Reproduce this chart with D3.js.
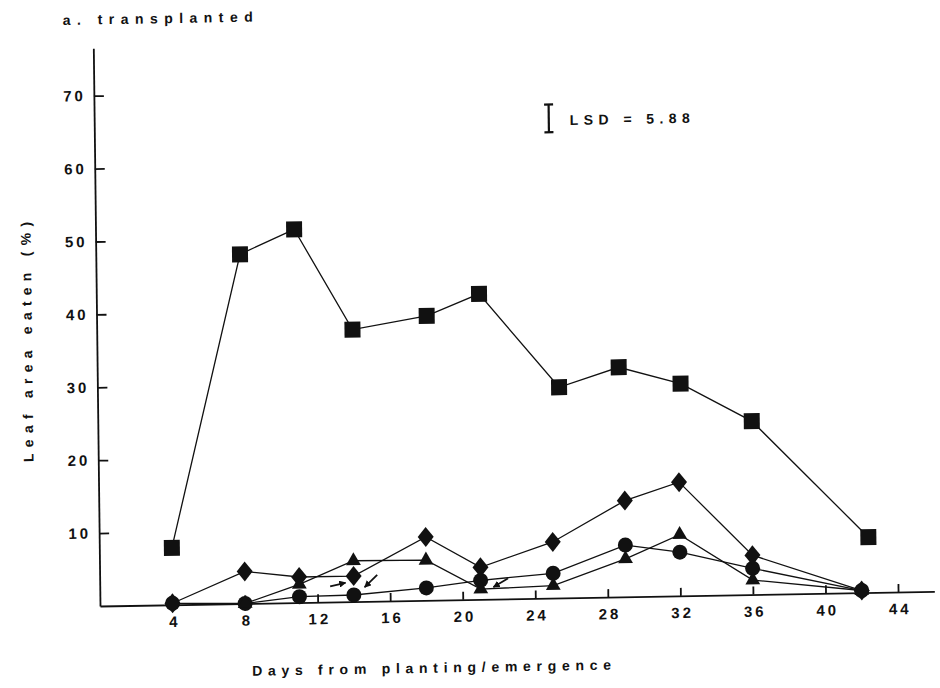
<!DOCTYPE html>
<html>
<head>
<meta charset="utf-8">
<script src="https://cdn.jsdelivr.net/npm/d3@7"></script>
<style>
  html, body { margin: 0; padding: 0; background: #fff; }
  svg { display: block; }
  text { font-family: "Liberation Sans", Arial, sans-serif; font-weight: bold; fill: #111; }
</style>
</head>
<body>
<svg id="chart" width="940" height="688"></svg>
<script>
// ---- data ----
const days = [4, 8, 11, 14, 18, 21, 25, 29, 32, 36, 42];
const squareDays = [4, 7.95, 10.95, 14.1, 18.2, 21.1, 25.45, 28.75, 32.15, 36.05, 42.4];
const squareVals = [7.8, 47.9, 51.2, 37.3, 39.0, 41.9, 28.9, 31.5, 29.1, 23.8, 7.6];
const diamondVals = [0.2, 4.4, 3.5, 3.5, 8.7, 4.4, 7.7, 13.2, 15.6, 5.4, 0.3];
const triangleVals = [null, 0, 2.5, 5.6, 5.5, 1.4, 1.7, 5.2, 8.4, 2.0, 0.3];
const circleVals = [0.2, 0, 0.8, 0.9, 1.7, 2.6, 3.4, 7.1, 6.0, 3.6, 0.3];
const xTicks = [4, 8, 12, 16, 20, 24, 28, 32, 36, 40, 44];
const yTicks = [10, 20, 30, 40, 50, 60, 70];
const titleText = "a. transplanted";
const xTitle = "Days from planting/emergence";
const yTitle = "Leaf area eaten (%)";
const lsdLabel = "LSD = 5.88";
// annotation arrows (day, value)
const arrows = [
  { from: [12.7, 2.15], to: [13.55, 2.6] },
  { from: [15.3, 3.6], to: [14.6, 1.95] },
  { from: [22.5, 2.8], to: [21.7, 1.65] }
];
const lsdBar = { day: 25.06, lo: 63.9, hi: 67.7 };

// ---- layout ----
const svg = d3.select("#chart");
const ox = 100, oy = 606;
const x = d3.scaleLinear().domain([0, 46]).range([ox, ox + 46 * 18.14]);
const y = d3.scaleLinear().domain([0, 76.5]).range([oy, oy - 76.5 * 7.29]);

svg.append("rect").attr("width", 940).attr("height", 688).attr("fill", "#fff");

// the scanned figure is slightly tilted / sheared
const ca = Math.cos(Math.PI / 180), sa = Math.sin(Math.PI / 180);
const g = svg.append("g")
  .attr("transform", `translate(${ox},${oy}) matrix(${ca},${-sa},0.012,1,0,0) translate(${-ox},${-oy})`);

// title
g.append("text").attr("x", 69.8).attr("y", 24.4)
  .attr("font-size", 14).attr("textLength", 190).attr("lengthAdjust", "spacing")
  .text(titleText);

// axes
const yAxis = d3.axisLeft(y).tickValues(yTicks).tickSizeInner(-10).tickSizeOuter(0).tickPadding(11)
  .tickFormat(d3.format("d"));
const gy = g.append("g").attr("transform", `translate(${ox},0)`).call(yAxis);
const xAxis = d3.axisBottom(x).tickValues(xTicks).tickSizeInner(-8).tickSizeOuter(0).tickPadding(11.5)
  .tickFormat(d3.format("d"));
const gx = g.append("g").attr("transform", `translate(0,${oy})`).call(xAxis);

[gx, gy].forEach(a => {
  a.select(".domain").attr("stroke", "#111").attr("stroke-width", 1.8);
  a.selectAll(".tick line").attr("stroke", "#111").attr("stroke-width", 1.8);
  a.selectAll(".tick text")
    .attr("font-family", "Liberation Sans, Arial, sans-serif")
    .attr("font-weight", "bold").attr("font-size", 15)
    .attr("letter-spacing", "3px").attr("fill", "#111");
});
gx.selectAll(".tick text").attr("dx", 1.5);
gy.selectAll(".tick text").attr("dx", 3);

// axis titles
g.append("text")
  .attr("transform", `translate(35.2,340.8) rotate(-90)`)
  .attr("text-anchor", "middle").attr("font-size", 14)
  .attr("textLength", 240).attr("lengthAdjust", "spacing")
  .text(yTitle);
g.append("text")
  .attr("x", 430.8).attr("y", 678.5)
  .attr("text-anchor", "middle").attr("font-size", 14)
  .attr("textLength", 359).attr("lengthAdjust", "spacing")
  .text(xTitle);

// LSD bar
const lsdX = x(lsdBar.day);
const lsdG = g.append("g").attr("stroke", "#111").attr("stroke-width", 2.2);
lsdG.append("line").attr("x1", lsdX).attr("x2", lsdX).attr("y1", y(lsdBar.lo)).attr("y2", y(lsdBar.hi));
lsdG.append("line").attr("x1", lsdX - 4.5).attr("x2", lsdX + 4.5).attr("y1", y(lsdBar.lo)).attr("y2", y(lsdBar.lo));
lsdG.append("line").attr("x1", lsdX - 4.5).attr("x2", lsdX + 4.5).attr("y1", y(lsdBar.hi)).attr("y2", y(lsdBar.hi));
g.append("text").attr("x", lsdX + 21).attr("y", y((lsdBar.lo + lsdBar.hi) / 2) + 7)
  .attr("font-size", 14).attr("textLength", 120).attr("lengthAdjust", "spacing")
  .text(lsdLabel);

// series
const series = [
  { name: "square", xs: squareDays, vals: squareVals },
  { name: "diamond", xs: days, vals: diamondVals },
  { name: "triangle", xs: days, vals: triangleVals },
  { name: "circle", xs: days, vals: circleVals }
].map(s => ({ ...s, pts: s.xs.map((d, i) => ({ d, v: s.vals[i] })).filter(p => p.v != null) }));

const line = d3.line().x(p => x(p.d)).y(p => y(p.v));
g.append("g").selectAll("path").data(series).join("path")
  .attr("d", s => line(s.pts))
  .attr("fill", "none").attr("stroke", "#111").attr("stroke-width", 1.3);

const shapes = {
  square: "M-8,-8H8V8H-8Z",
  diamond: "M0,-10L8,0L0,10L-8,0Z",
  triangle: "M0,-8.6L7.4,4.3L-7.4,4.3Z",
  circle: d3.symbol(d3.symbolCircle, Math.PI * 7.5 * 7.5)()
};
const markG = g.append("g");
series.slice().reverse().forEach(s => {
  markG.append("g").selectAll("path").data(s.pts).join("path")
    .attr("transform", p => `translate(${x(p.d)},${y(p.v)})`)
    .attr("d", shapes[s.name]).attr("fill", "#111");
});

// arrows
const defs = svg.append("defs");
defs.append("marker").attr("id", "ah").attr("viewBox", "0 0 10 10")
  .attr("refX", 9).attr("refY", 5).attr("markerWidth", 7).attr("markerHeight", 7)
  .attr("markerUnits", "userSpaceOnUse").attr("orient", "auto")
  .append("path").attr("d", "M0,0L10,5L0,10Z").attr("fill", "#111");
g.append("g").selectAll("line").data(arrows).join("line")
  .attr("x1", a => x(a.from[0])).attr("y1", a => y(a.from[1]))
  .attr("x2", a => x(a.to[0])).attr("y2", a => y(a.to[1]))
  .attr("stroke", "#111").attr("stroke-width", 1.8).attr("marker-end", "url(#ah)");
</script>
</body>
</html>
